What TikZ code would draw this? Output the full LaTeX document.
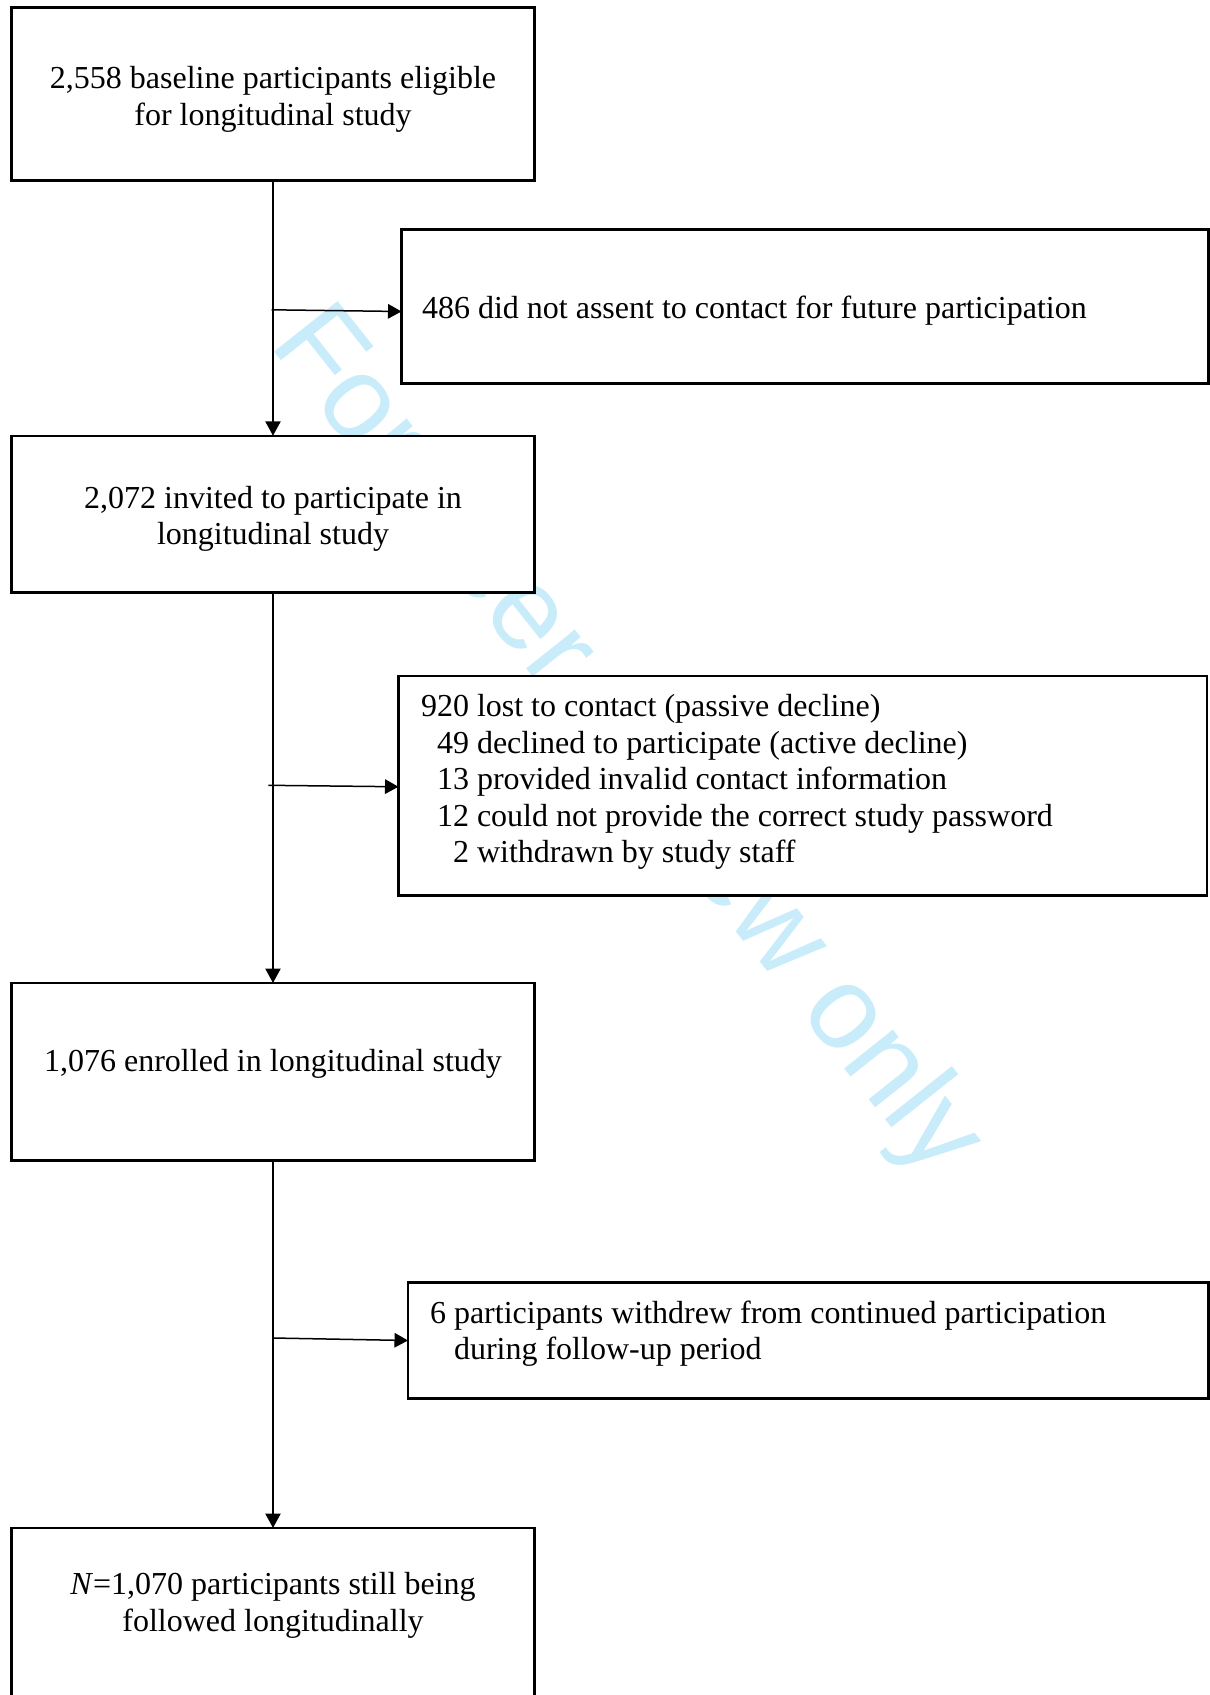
\documentclass[tikz,border=0pt]{standalone}
\usepackage{fontspec}
\setmainfont{Liberation Serif}
\newfontfamily\wmfont{Liberation Sans}
\usetikzlibrary{arrows.meta}
\definecolor{wmblue}{RGB}{200,236,250}

\begin{document}
\begin{tikzpicture}[x=1pt,y=-1pt,
  box/.style={rectangle, draw, fill=white, line width=2.6pt, inner sep=0pt, outer sep=0pt},
  txt/.style={inner sep=0pt, outer sep=0pt, font=\fontsize{32}{36.8}\selectfont},
  mainarrow/.style={line width=2.4pt, -{Triangle[length=14.5pt,width=15pt]}},
  sidearrow/.style={line width=1.5pt, -{Triangle[length=13.5pt,width=14.5pt]}},
  watermark/.style={inner sep=0pt, outer sep=0pt, text=wmblue, font=\wmfont\fontsize{118}{130}\selectfont}
]
\useasboundingbox (0,0) rectangle (1210,1695);
\clip (0,0) rectangle (1210,1695);

% watermark (behind the boxes)
\node[watermark, anchor=base west, rotate=-51.5] (wm) at (268,344) {For peer review only};

% boxes
\node[box, minimum width=523pt, minimum height=173pt]   (b1) at (273,94.1) {};
\node[box, minimum width=807pt, minimum height=154pt]   (b2) at (805,306.3) {};
\node[box, minimum width=523pt, minimum height=156.8pt] (b3) at (273,514.2) {};
\node[box, minimum width=808.5pt, minimum height=219.5pt] (b4) at (802.75,785.75) {};
\node[box, minimum width=523pt, minimum height=177.5pt] (b5) at (273,1071.75) {};
\node[box, minimum width=800.5pt, minimum height=116pt] (b6) at (808.25,1340.5) {};
\node[box, minimum width=523pt, minimum height=232pt]   (b7) at (273,1644) {};

% texts
\node[txt, anchor=base] (t1a) at (273,88) {2,558 baseline participants eligible};
\node[txt, anchor=base] (t1b) at (273,125) {for longitudinal study};
\node[txt, anchor=base west] (t2) at (422,318) {486 did not assent to contact for future participation};
\node[txt, anchor=base] (t3a) at (273,508.5) {2,072 invited to participate in};
\node[txt, anchor=base] (t3b) at (273,544) {longitudinal study};
\node[txt, anchor=base west] (t4a) at (421,716.5) {920 lost to contact (passive decline)};
\node[txt, anchor=base west] (t4b) at (421,753) {\hphantom{0}49 declined to participate (active decline)};
\node[txt, anchor=base west] (t4c) at (421,789.5) {\hphantom{0}13 provided invalid contact information};
\node[txt, anchor=base west] (t4d) at (421,826) {\hphantom{0}12 could not provide the correct study password};
\node[txt, anchor=base west] (t4e) at (421,862.5) {\hphantom{00}2 withdrawn by study staff};
\node[txt, anchor=base] (t5) at (273,1071) {1,076 enrolled in longitudinal study};
\node[txt, anchor=base west] (t6a) at (430,1323.3) {6 participants withdrew from continued participation};
\node[txt, anchor=base west] (t6b) at (454,1359.3) {during follow-up period};
\node[txt, anchor=base] (t7a) at (273,1594.3) {\textit{N}=1,070 participants still being};
\node[txt, anchor=base] (t7b) at (273,1631.7) {followed longitudinally};

% connectors
\draw[mainarrow] (b1.south) -- (b3.north);
\draw[mainarrow] (b3.south) -- (b5.north);
\draw[mainarrow] (b5.south) -- (b7.north);

\coordinate (jA) at (271.7,309.8);
\coordinate (jB) at (268.3,785.3);
\coordinate (jC) at (273,1338);
\draw[sidearrow] (jA) -- ([yshift=-5.2pt]b2.west);
\draw[sidearrow] (jB) -- ([yshift=-1pt]b4.west);
\draw[sidearrow] (jC) -- (b6.west);
\end{tikzpicture}
\end{document}
